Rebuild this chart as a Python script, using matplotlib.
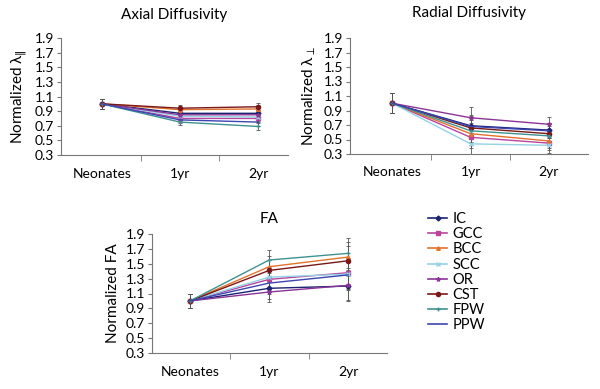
import matplotlib
matplotlib.use("Agg")
import matplotlib.pyplot as plt
from matplotlib.lines import Line2D
import numpy as np

plt.rcParams['font.family'] = ['Lato', 'DejaVu Sans']
plt.rcParams['mathtext.fontset'] = 'dejavusans'

timepoints = ["Neonates", "1yr", "2yr"]
regions = ["IC", "GCC", "BCC", "SCC", "OR", "CST", "FPW", "PPW"]

axial = {
    "IC":  [1.0, 0.87, 0.87],
    "GCC": [1.0, 0.80, 0.80],
    "BCC": [1.0, 0.92, 0.93],
    "SCC": [1.0, 0.83, 0.82],
    "OR":  [1.0, 0.85, 0.85],
    "CST": [1.0, 0.94, 0.96],
    "FPW": [1.0, 0.75, 0.69],
    "PPW": [1.0, 0.78, 0.75],
}
radial = {
    "IC":  [1.0, 0.69, 0.63],
    "GCC": [1.0, 0.53, 0.45],
    "BCC": [1.0, 0.58, 0.48],
    "SCC": [1.0, 0.44, 0.42],
    "OR":  [1.0, 0.80, 0.71],
    "CST": [1.0, 0.66, 0.58],
    "FPW": [1.0, 0.62, 0.55],
    "PPW": [1.0, 0.68, 0.62],
}
fa = {
    "IC":  [1.0, 1.17, 1.20],
    "GCC": [1.0, 1.29, 1.38],
    "BCC": [1.0, 1.46, 1.59],
    "SCC": [1.0, 1.32, 1.36],
    "OR":  [1.0, 1.12, 1.21],
    "CST": [1.0, 1.41, 1.54],
    "FPW": [1.0, 1.55, 1.64],
    "PPW": [1.0, 1.24, 1.35],
}
axial_err = [0.07, 0.04, 0.05]
radial_err = [0.14, 0.15, 0.10]
fa_err = [0.09, 0.14, 0.20]

colors = {"IC": "#1c2373", "GCC": "#b8449e", "BCC": "#e2722c", "SCC": "#94d2e6",
          "OR": "#8a3596", "CST": "#7a1818", "FPW": "#3f9290", "PPW": "#3b46b2"}
markers = {"IC": "D", "GCC": "s", "BCC": "^", "SCC": "x", "OR": "*",
           "CST": "o", "FPW": "+", "PPW": None}
msizes = {"IC": 2.5, "GCC": 3.2, "BCC": 2.5, "SCC": 3, "OR": 3, "CST": 3, "FPW": 3, "PPW": 0}

fig = plt.figure(figsize=(6.0, 3.89), dpi=100)
H = 389.0
W = 600.0

def make_ax(l, r, t, b):
    return fig.add_axes([l / W, 1 - b / H, (r - l) / W, (b - t) / H])

panels = [
    (make_ax(61, 288, 38, 155), axial, axial_err, "Axial Diffusivity", r"Normalized λ$_{\|}$", (-0.52, 2.38), 14),
    (make_ax(350, 588, 38, 154), radial, radial_err, "Radial Diffusivity", r"Normalized λ$_{\perp}$", (-0.54, 2.5), 15),
    (make_ax(152, 387, 234, 353), fa, fa_err, "FA", "Normalized FA", (-0.48, 2.49), 8),
]

x = np.arange(len(timepoints))
for ax, data, err, title, ylabel, xl, tpad in panels:
    for reg in regions:
        ax.errorbar(x, data[reg], yerr=err, color=colors[reg], ecolor="#555555",
                    elinewidth=0.6, capsize=1.5, capthick=0.6,
                    marker=markers[reg], markersize=msizes[reg], lw=1.0)
    ax.set_xlim(*xl)
    ax.set_ylim(0.3, 1.9)
    ax.set_yticks(np.arange(0.3, 1.91, 0.2))
    ax.set_yticklabels([f"{v:.1f}" for v in np.arange(0.3, 1.91, 0.2)])
    ax.set_xticks(x)
    ax.set_xticklabels(timepoints)
    ax.set_xticks([0.5, 1.5], minor=True)
    ax.tick_params(axis='x', which='major', length=0, pad=9, labelsize=10)
    ax.tick_params(axis='x', which='minor', length=4, color="#777777")
    ax.tick_params(axis='y', length=3, color="#777777", labelsize=10, pad=2)
    for s in ["top", "right"]:
        ax.spines[s].set_visible(False)
    for s in ["left", "bottom"]:
        ax.spines[s].set_color("#777777")
        ax.spines[s].set_linewidth(0.8)
    ax.set_title(title, fontsize=11, pad=tpad)
    ax.set_ylabel(ylabel, fontsize=11, labelpad=4)

handles = [Line2D([], [], color=colors[r], marker=markers[r], markersize=msizes[r], lw=1.2)
           for r in regions]
fig.legend(handles, regions, loc="upper left", bbox_to_anchor=(415 / W, 1 - 199 / H),
           frameon=False, fontsize=10.5, handlelength=1.3, labelspacing=0.08,
           handletextpad=0.35)

fig.savefig("out.png", dpi=100)
